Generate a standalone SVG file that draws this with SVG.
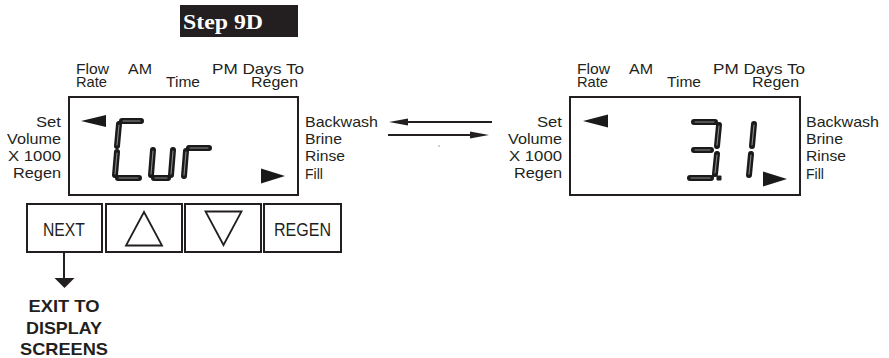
<svg xmlns="http://www.w3.org/2000/svg" width="889" height="358" viewBox="0 0 889 358">
  <style>
    .lbl { font-family: "Liberation Sans", Arial, sans-serif; font-size: 15px; fill: #231f20; }
    .end { text-anchor: end; }
    .btn { font-family: "Liberation Sans", Arial, sans-serif; font-size: 19px; fill: #231f20; }
    .exit { font-family: "Liberation Sans", Arial, sans-serif; font-size: 17px; font-weight: bold; fill: #231f20; text-anchor: middle; }
    .frame { fill: #fff; stroke: #231f20; stroke-width: 2; }
    .seg { fill: none; stroke: #1a1a1a; stroke-width: 6; stroke-linecap: round; }
    .hl { fill: none; stroke: #8c8c8c; stroke-width: 1.1; stroke-linecap: round; }
    .ptr { fill: #1a1a1a; }
    .line { fill: none; stroke: #231f20; stroke-width: 2; }
    .tri { fill: none; stroke: #231f20; stroke-width: 1.8; stroke-linejoin: miter; }
  </style>
  <defs>
    <g id="labels">
      <text class="lbl" x="76" y="74" textLength="33" lengthAdjust="spacingAndGlyphs">Flow</text>
      <text class="lbl" x="76" y="86.5" textLength="31" lengthAdjust="spacingAndGlyphs">Rate</text>
      <text class="lbl" x="128" y="74" textLength="24" lengthAdjust="spacingAndGlyphs">AM</text>
      <text class="lbl" x="166" y="87" textLength="34" lengthAdjust="spacingAndGlyphs">Time</text>
      <text class="lbl" x="212" y="74" textLength="92" lengthAdjust="spacingAndGlyphs">PM Days To</text>
      <text class="lbl" x="251" y="86.5" textLength="47" lengthAdjust="spacingAndGlyphs">Regen</text>
      <text class="lbl end" x="61" y="127" textLength="25" lengthAdjust="spacingAndGlyphs">Set</text>
      <text class="lbl end" x="61" y="143.5" textLength="54" lengthAdjust="spacingAndGlyphs">Volume</text>
      <text class="lbl end" x="61" y="161" textLength="53" lengthAdjust="spacingAndGlyphs">X 1000</text>
      <text class="lbl end" x="61" y="178" textLength="48" lengthAdjust="spacingAndGlyphs">Regen</text>
      <text class="lbl" x="305" y="127" textLength="73" lengthAdjust="spacingAndGlyphs">Backwash</text>
      <text class="lbl" x="305" y="143.5" textLength="37" lengthAdjust="spacingAndGlyphs">Brine</text>
      <text class="lbl" x="305" y="161" textLength="40" lengthAdjust="spacingAndGlyphs">Rinse</text>
      <text class="lbl" x="305" y="178.5" textLength="18" lengthAdjust="spacingAndGlyphs">Fill</text>
    </g>
  </defs>

  <g id="header">
    <rect x="180" y="5" width="118" height="32" fill="#231f20"/>
    <text x="183" y="28.5" font-family="'Liberation Serif', 'Times New Roman', serif" font-size="22" font-weight="bold" fill="#fff" textLength="80" lengthAdjust="spacingAndGlyphs">Step 9D</text>
  </g>

  <g id="display-left">
    <use href="#labels"/>
    <rect class="frame" x="69" y="97" width="229" height="98"/>
    <path class="ptr" d="M81,121 L106,115 L106,127 Z"/>
    <path class="ptr" d="M285,176 L261,168.5 L261,183.5 Z"/>
    <g id="text-Cur">
      <path class="seg" d="M122,121 L141,121 M119,124 L117,146 M117,152 L115,175 M118,178 L139,178 M153,150 L151,175 M154,178 L168,178 M173,150 L171,175 M186,151 L184,176 M189,148 L209,148"/>
      <path class="hl" d="M123,121 L140,121 M119,125 L117,145 M117,153 L115,174 M119,178 L138,178 M153,151 L151,174 M155,178 L167,178 M173,151 L171,174 M186,152 L184,175 M190,148 L208,148"/>
    </g>
  </g>

  <g id="display-right">
    <use href="#labels" transform="translate(501,0)"/>
    <rect class="frame" x="570" y="97" width="230" height="98"/>
    <path class="ptr" d="M583,121 L608,114.5 L608,127.5 Z"/>
    <path class="ptr" d="M787,179 L763,171.5 L763,186.5 Z"/>
    <g id="text-31">
      <path class="seg" d="M694,122 L715,122 M694,150 L711,150 M690,178 L711,178 M719,125 L717,146 M717,154 L715,174 M754,124 L752,146 M751,154 L749,175"/>
      <path class="hl" d="M695,122 L714,122 M695,150 L710,150 M691,178 L710,178 M719,126 L717,145 M717,155 L715,173 M754,125 L752,145 M751,155 L749,174"/>
      <rect x="716.5" y="175.5" width="5" height="5" rx="1" fill="#1a1a1a"/>
    </g>
  </g>

  <g id="btn-next">
    <rect class="frame" x="27" y="204" width="75" height="48"/>
    <text class="btn" x="43" y="236" textLength="42" lengthAdjust="spacingAndGlyphs">NEXT</text>
  </g>
  <g id="btn-up">
    <rect class="frame" x="106" y="204" width="76" height="48"/>
    <path class="tri" d="M144,212 L126,245.5 L162,245.5 Z"/>
  </g>
  <g id="btn-down">
    <rect class="frame" x="185" y="204" width="76" height="48"/>
    <path class="tri" d="M205.5,211.5 L241.5,211.5 L223.5,245 Z"/>
  </g>
  <g id="btn-regen">
    <rect class="frame" x="264" y="204" width="77" height="48"/>
    <text class="btn" x="274" y="236" textLength="57" lengthAdjust="spacingAndGlyphs">REGEN</text>
  </g>

  <g id="connectors">
    <line class="line" x1="492" y1="122" x2="404" y2="122"/>
    <path d="M389,122 L408,118.5 L408,125.5 Z" fill="#231f20"/>
    <line class="line" x1="388" y1="135" x2="474" y2="135"/>
    <path d="M489,135 L470,131.5 L470,138.5 Z" fill="#231f20"/>
    <circle cx="439" cy="146" r="0.7" fill="#777"/>
    <line class="line" x1="64" y1="253" x2="64" y2="280"/>
    <path d="M54.5,278 L74.5,278 L64.5,288 Z" fill="#231f20"/>
  </g>

  <g id="exit-label">
    <text class="exit" x="64" y="311.5" textLength="71" lengthAdjust="spacingAndGlyphs">EXIT TO</text>
    <text class="exit" x="64" y="333.5" textLength="76" lengthAdjust="spacingAndGlyphs">DISPLAY</text>
    <text class="exit" x="64" y="355" textLength="88" lengthAdjust="spacingAndGlyphs">SCREENS</text>
  </g>
</svg>
